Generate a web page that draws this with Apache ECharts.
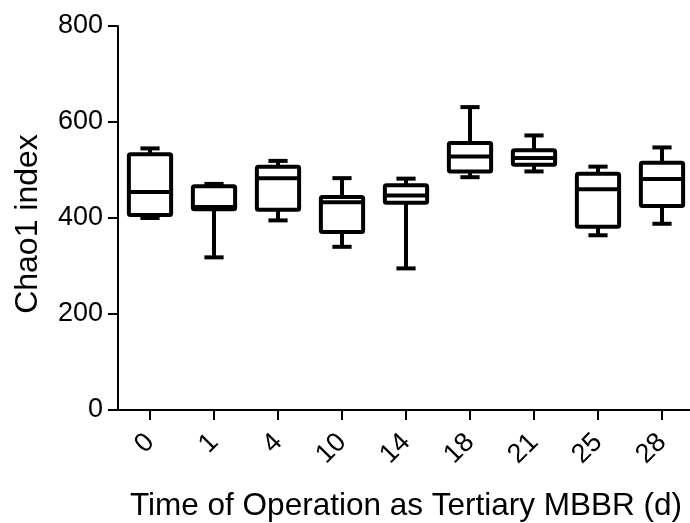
<!DOCTYPE html>
<html>
<head>
<meta charset="utf-8">
<script src="https://cdn.jsdelivr.net/npm/echarts@6/dist/echarts.min.js"></script>
<style>
  html, body { margin: 0; padding: 0; background: #fff; }
  #chart { width: 690px; height: 523px; }
</style>
</head>
<body>
<div id="chart"></div>
<script>
// Sampling days and Chao1 box statistics per day
const days = ['0', '1', '4', '10', '14', '18', '21', '25', '28'];
const minVals    = [400, 318, 395, 340, 295, 485, 497, 364, 388];
const q1Vals     = [406, 418, 417, 371, 432, 497, 511, 382, 425];
const medianVals = [454, 423, 483, 433, 447, 528, 525, 460, 481];
const q3Vals     = [533, 466, 507, 444, 468, 556, 541, 492, 515];
const maxVals    = [545, 471, 519, 483, 482, 631, 572, 507, 547];
const yTicks = [0, 200, 400, 600, 800];

const rows = days.map((d, i) => [i, minVals[i], q1Vals[i], medianVals[i], q3Vals[i], maxVals[i]]);

const FONT = "'Liberation Sans', Arial, sans-serif";
const LW = 4;

function renderBox(params, api) {
  const i = api.value(0);
  const pMin = api.coord([i, api.value(1)]);
  const pQ1 = api.coord([i, api.value(2)]);
  const pMed = api.coord([i, api.value(3)]);
  const pQ3 = api.coord([i, api.value(4)]);
  const pMax = api.coord([i, api.value(5)]);
  const band = api.size([1, 0])[0];
  const bw = band * 0.66;
  const cw = band * 0.3;
  const x = pMed[0];
  const style = { stroke: '#000', lineWidth: LW, fill: null, lineJoin: 'round' };
  return {
    type: 'group',
    children: [
      { type: 'line', shape: { x1: x, y1: pQ3[1], x2: x, y2: pMax[1] }, style },
      { type: 'line', shape: { x1: x, y1: pQ1[1], x2: x, y2: pMin[1] }, style },
      { type: 'line', shape: { x1: x - cw / 2, y1: pMax[1], x2: x + cw / 2, y2: pMax[1] }, style },
      { type: 'line', shape: { x1: x - cw / 2, y1: pMin[1], x2: x + cw / 2, y2: pMin[1] }, style },
      { type: 'rect', shape: { x: x - bw / 2, y: pQ3[1], width: bw, height: pQ1[1] - pQ3[1], r: 1.5 },
        style: { stroke: '#000', lineWidth: LW, fill: '#fff', lineJoin: 'round' } },
      { type: 'line', shape: { x1: x - bw / 2, y1: pMed[1], x2: x + bw / 2, y2: pMed[1] }, style }
    ]
  };
}

const chart = echarts.init(document.getElementById('chart'), null, { renderer: 'canvas' });
chart.setOption({
  animation: false,
  backgroundColor: '#fff',
  grid: { left: 118, top: 26, width: 576, height: 384, containLabel: false, outerBoundsMode: 'none' },
  xAxis: {
    type: 'category',
    data: days,
    boundaryGap: true,
    name: 'Time of Operation as Tertiary MBBR (d)',
    nameLocation: 'middle',
    nameGap: 80,
    nameTextStyle: { fontFamily: FONT, fontSize: 31.5, color: '#000' },
    axisLine: { show: true, lineStyle: { color: '#000', width: 2 } },
    axisTick: { show: true, alignWithLabel: true, length: 10, lineStyle: { color: '#000', width: 2 } },
    axisLabel: { rotate: 45, margin: 28, fontFamily: FONT, fontSize: 27, color: '#000' },
    splitLine: { show: false }
  },
  yAxis: {
    type: 'value',
    min: yTicks[0],
    max: yTicks[yTicks.length - 1],
    interval: yTicks[1] - yTicks[0],
    name: 'Chao1 index',
    nameLocation: 'middle',
    nameGap: 74,
    nameRotate: 90,
    nameTextStyle: { fontFamily: FONT, fontSize: 32, color: '#000', padding: [0, 12, 0, 0] },
    axisLine: { show: true, lineStyle: { color: '#000', width: 2 } },
    axisTick: { show: true, length: 10, lineStyle: { color: '#000', width: 2 } },
    axisLabel: { margin: 15, fontFamily: FONT, fontSize: 27, color: '#000' },
    splitLine: { show: false }
  },
  series: [{
    type: 'custom',
    renderItem: renderBox,
    data: rows,
    encode: { x: 0, y: [1, 2, 3, 4, 5] },
    clip: false
  }]
});
</script>
</body>
</html>
